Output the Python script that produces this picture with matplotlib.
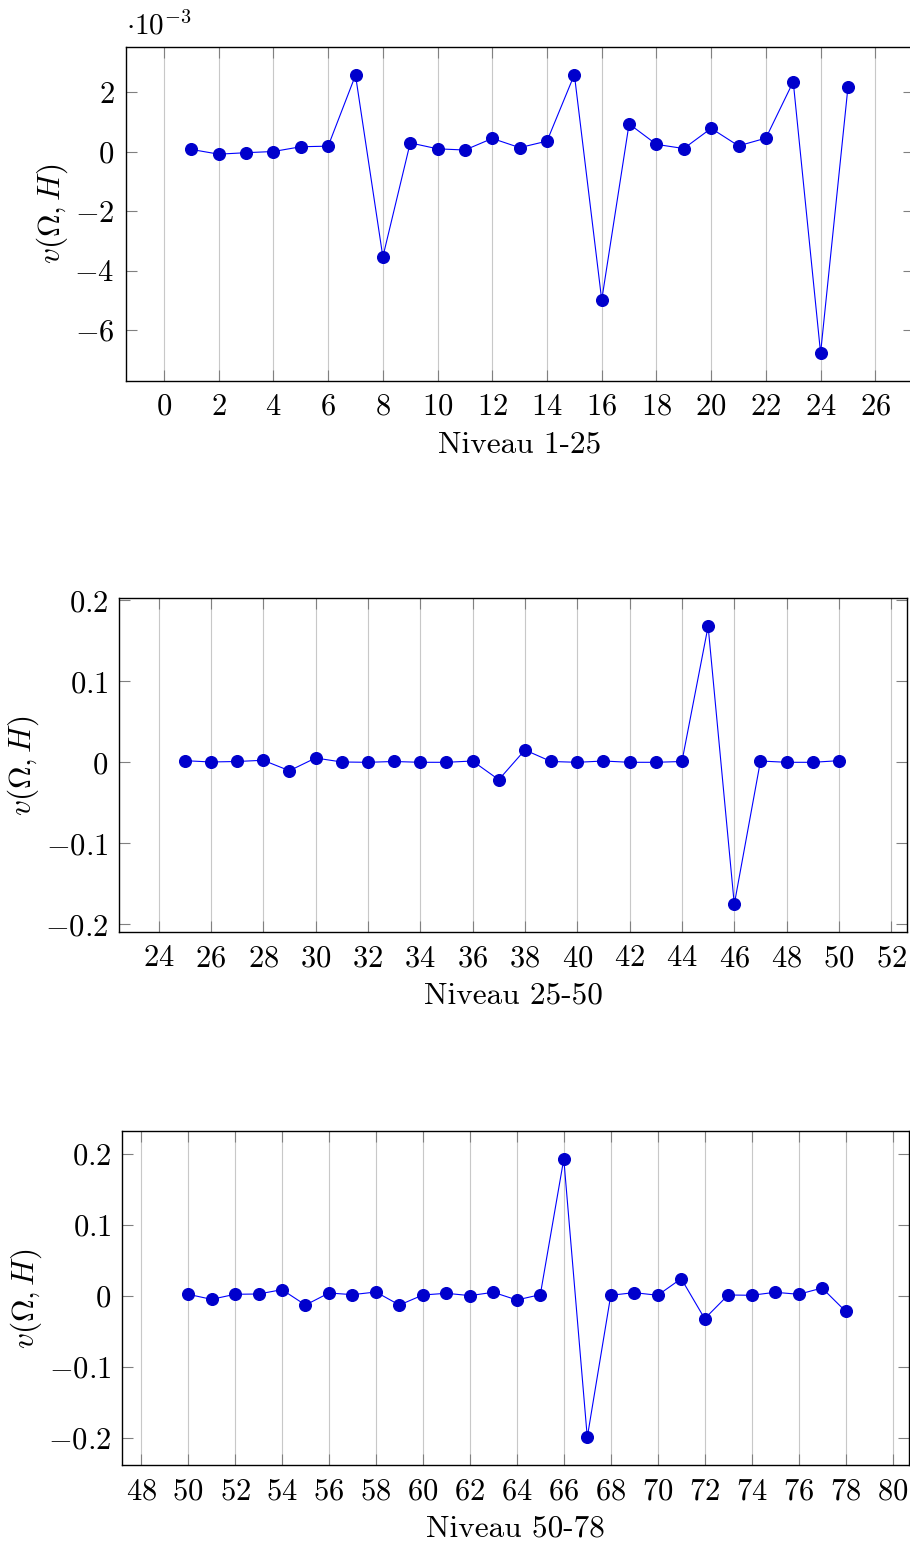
import numpy as np
import matplotlib
matplotlib.use("Agg")
import matplotlib.pyplot as plt
from matplotlib.ticker import FuncFormatter, MultipleLocator, FixedLocator

plt.rcParams['font.family'] = 'serif'
plt.rcParams['font.serif'] = ['cmr10']
plt.rcParams['mathtext.fontset'] = 'cm'
plt.rcParams['axes.unicode_minus'] = False

# ---------------- data ----------------
x1 = list(range(1, 26))
v1_milli = [0.08, -0.08, -0.03, 0.01, 0.17, 0.19, 2.58, -3.54, 0.30, 0.10,
            0.06, 0.45, 0.14, 0.36, 2.60, -4.99, 0.94, 0.25, 0.11, 0.79,
            0.20, 0.46, 2.36, -6.78, 2.17]
scale1 = 1e-3

x2 = list(range(25, 51))
v2 = [0.002, 0.0004, 0.001, 0.0025, -0.0104, 0.0053, 0.0004, 0.0, 0.001, 0.0,
      0.0, 0.0016, -0.0215, 0.0152, 0.001, 0.0, 0.0016, 0.0, 0.0, 0.001,
      0.168, -0.1753, 0.0016, 0.0, 0.0, 0.002]

x3 = list(range(50, 79))
v3 = [0.0024, -0.0047, 0.0024, 0.0028, 0.0089, -0.0127, 0.0042, 0.0019, 0.0056,
      -0.0127, 0.0014, 0.0038, 0.0005, 0.0052, -0.0056, 0.0019, 0.1927, -0.1987,
      0.001, 0.0047, 0.001, 0.0244, -0.0319, 0.0014, 0.001, 0.0052, 0.0024,
      0.0112, -0.0215]

xlabels = ['Niveau 1-25', 'Niveau 25-50', 'Niveau 50-78']
ylabel = r'$v(\Omega,H)$'

W, H = 910, 1544
fig = plt.figure(figsize=(W / 100, H / 100), dpi=100)

FS = 22
LFS = 22.5


def add_axes(left, right, top, bottom):
    return fig.add_axes([left / W, 1 - bottom / H, (right - left) / W, (bottom - top) / H])


def mt(s):
    if s.startswith('-'):
        return '${-}' + s[1:] + '$'
    return '$' + s + '$'


def fmt_num(v):
    if abs(v) < 1e-12:
        return '$0$'
    return mt('%.1f' % v)


def style(ax, xs, ys, xlim, ylim, xlabel, yticks, yfmt):
    ax.plot(xs, ys, color='#0000ff', lw=0.8, marker='o', ms=8.4,
            mfc='#0000cc', mec='#0000cc', zorder=3)
    ax.set_xlim(*xlim)
    ax.set_ylim(*ylim)
    ax.xaxis.set_major_locator(MultipleLocator(2))
    ax.yaxis.set_major_locator(FixedLocator(yticks))
    ax.xaxis.set_major_formatter(FuncFormatter(lambda v, p: '$%d$' % round(v)))
    ax.yaxis.set_major_formatter(FuncFormatter(yfmt))
    ax.grid(True, axis='x', color='#c8c8c8', lw=0.8, zorder=0)
    ax.tick_params(direction='in', length=8, width=0.8, color='#808080',
                   top=True, right=True, labelsize=FS)
    ax.tick_params(axis='x', pad=9)
    ax.tick_params(axis='y', pad=8)
    for s in ax.spines.values():
        s.set_linewidth(1.0)
        s.set_color('black')
    ax.set_xlabel(xlabel, fontsize=LFS, labelpad=7)
    ax.set_ylabel(ylabel, fontsize=LFS, labelpad=3)


ax1 = add_axes(125.7, 913.6, 46.7, 381)
style(ax1, x1, np.array(v1_milli) * scale1, (-1.4, 27.4), (-7.72e-3, 3.54e-3),
      xlabels[0], [-6e-3, -4e-3, -2e-3, 0, 2e-3],
      lambda v, p: '$0$' if abs(v) < 1e-12 else mt('%d' % round(v / scale1)))
ax1.text(0.0, 1.02, r'$\cdot 10^{-3}$', transform=ax1.transAxes, fontsize=21,
         ha='left', va='bottom')

ax2 = add_axes(119.3, 907, 598.3, 932.3)
style(ax2, x2, v2, (22.5, 52.6), (-0.2099, 0.2025), xlabels[1],
      [-0.2, -0.1, 0, 0.1, 0.2], lambda v, p: fmt_num(v))

ax3 = add_axes(122.3, 909, 1131.3, 1465.3)
style(ax3, x3, v3, (47.2, 80.7), (-0.2381, 0.2316), xlabels[2],
      [-0.2, -0.1, 0, 0.1, 0.2], lambda v, p: fmt_num(v))

fig.savefig('out.png', dpi=100)
